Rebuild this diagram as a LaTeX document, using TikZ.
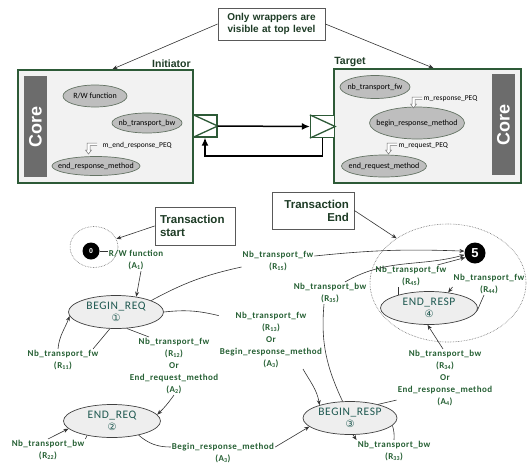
\documentclass[tikz,border=0pt]{standalone}
\usepackage{fontspec}
\setmainfont{Carlito}
\newfontfamily\lblfam{Carlito}[LetterSpace=5]
\newfontfamily\statefam{Carlito}[LetterSpace=5]
\newfontfamily\arialfam{Liberation Sans}
\newfontfamily\symfam{DejaVu Sans}
\usetikzlibrary{arrows.meta,shapes.geometric,calc}
\definecolor{txtgreen}{RGB}{38,96,52}
\definecolor{stategreen}{RGB}{30,88,80}
\definecolor{boxgreen}{RGB}{45,90,55}
\definecolor{panelgray}{RGB}{242,242,242}
\definecolor{coregray}{RGB}{108,108,108}
\definecolor{methgray}{RGB}{190,190,190}
\definecolor{methedge}{RGB}{100,115,100}
\definecolor{statefill}{RGB}{238,238,238}
\definecolor{notetxt}{RGB}{30,60,38}
\newcommand\circnum[1]{{\symfam\fontsize{10}{10}\selectfont #1}}

\begin{document}
\begin{tikzpicture}[x=1pt,y=-1pt,
  lbl/.style={text=txtgreen,font=\lblfam\bfseries\fontsize{9}{12}\selectfont,align=center,inner sep=1pt},
  state/.style={ellipse,draw=black!75,line width=0.7pt,fill=statefill,text=stategreen,
    font=\statefam\fontsize{11.5}{12.5}\selectfont,align=center,inner xsep=1pt,inner ysep=-2pt,minimum height=33pt},
  meth/.style={ellipse,draw=methedge,line width=0.7pt,fill=methgray,font=\fontsize{8}{8}\selectfont,inner xsep=-7pt,inner ysep=-2pt},
  panel/.style={draw=boxgreen,line width=1.8pt,fill=panelgray},
  corebar/.style={fill=coregray,text=white,font=\arialfam\bfseries\fontsize{18}{18}\selectfont,rotate=90,
    minimum width=101pt,minimum height=23pt,inner sep=0pt},
  port/.style={draw=boxgreen,line width=1.3pt,fill=white,minimum width=24pt,minimum height=22pt,inner sep=0pt},
  portline/.style={draw=boxgreen,line width=1.3pt},
  wraplbl/.style={text=notetxt,font=\arialfam\bfseries\fontsize{10.5}{12}\selectfont,inner sep=1pt},
  note/.style={draw=black!65,line width=0.8pt,fill=white,text=notetxt,inner xsep=5pt},
  peqlbl/.style={font=\fontsize{7.5}{8}\selectfont,inner sep=0.5pt,anchor=west},
  ring/.style={ellipse,draw=black!60,densely dotted,line width=0.6pt,inner sep=0pt},
  endpt/.style={circle,fill=black,text=white,inner sep=0pt},
  link/.style={draw=black!80,line width=0.6pt},
  trans/.style={link,-{Stealth[length=5pt,width=4pt]}},
  bus/.style={line width=1.5pt,-{Latex[length=8pt,width=7pt]}},
  peq/.pic={\draw[draw=black!55,fill=white,line width=0.5pt] (10,0) -- (0,0) -- (0,7) -- (-1.5,7) -- (1.5,11) -- (4.5,7) -- (3,7) -- (3,2.5) -- (10,2.5);}
]
\useasboundingbox (0,0) rectangle (527,464);

\node[note,text width=97pt,align=center,minimum height=32pt,font=\arialfam\bfseries\fontsize{10}{12}\selectfont] (wrapnote) at (271.5,24) {Only wrappers are\\visible at top level};

\node[panel,minimum width=175pt,minimum height=113pt] (initiator) at (105.5,126.5) {};
\node[panel,minimum width=187pt,minimum height=114pt] (target) at (427.5,126) {};
\node[wraplbl,anchor=south east] (initlbl) at ([xshift=-2pt]initiator.north east) {Initiator};
\node[wraplbl,anchor=south west] (targlbl) at (target.north west) {Target};
\node[corebar] (icore) at (35.5,126.5) {Core};
\node[corebar] (tcore) at (503.5,124.5) {Core};

\node[meth,minimum width=64pt,minimum height=22pt] (rwfunc) at (95,96) {R/W function};
\node[meth,minimum width=70pt,minimum height=20pt] (ibw) at (147,123) {nb\_transport\_bw};
\node[meth,minimum width=88pt,minimum height=19pt] (iendresp) at (96,166) {end\_response\_method};
\node[meth,minimum width=70pt,minimum height=23pt] (tfw) at (375,87) {nb\_transport\_fw};
\node[meth,minimum width=93pt,minimum height=32pt] (tbeginresp) at (417,123) {begin\_response\_method};
\node[meth,minimum width=85pt,minimum height=22pt] (tendreq) at (384,166) {end\_request\_method};

\pic at (87,143) {peq};
\node[peqlbl] (ipeq) at (102,145) {m\_end\_response\_PEQ};
\pic at (412,97) {peq};
\node[peqlbl] (trespq) at (423,99) {m\_response\_PEQ};
\pic at (387,143) {peq};
\node[peqlbl] (treqq) at (398,146) {m\_request\_PEQ};

\node[port] (iport) at (205,126) {};
\node[port] (tport) at (322.5,126.5) {};
\foreach \p in {iport,tport} \draw[portline] (\p.north west) -- (\p.east) -- (\p.south west);
\draw[bus] (iport.east) -- (tport.west);
\draw[bus] (tport.south) -- ++(0,18) -| (iport.south);

\draw[trans] (wrapnote.west) -- ([xshift=7pt]initiator.north);
\draw[trans] (wrapnote.east) -- ([xshift=6pt]target.north);

\node[ring,minimum width=48pt,minimum height=41pt] (startring) at (94,247) {};
\node[ring,minimum width=156pt,minimum height=118pt] (endring) at (448,283) {};
\node[endpt,minimum size=17pt,font=\arialfam\bfseries\fontsize{7}{7}\selectfont] (s0) at (91,251) {0};
\node[endpt,minimum size=21pt,font=\arialfam\bfseries\fontsize{13}{13}\selectfont] (s5) at (475,253) {5};
\node[note,text width=70pt,align=left,minimum height=38pt,font=\arialfam\bfseries\fontsize{11.5}{13}\selectfont] (startnote) at (195,226) {Transaction\\start};
\node[note,text width=72pt,align=right,minimum height=37pt,font=\arialfam\bfseries\fontsize{11.5}{13}\selectfont] (endnote) at (313,210.5) {Transaction\\End};

\node[state,minimum width=95pt] (breq) at (116,312) {BEGIN\_REQ\\\circnum{①}};
\node[state,minimum width=97pt] (ereq) at (112,421) {END\_REQ\\\circnum{②}};
\node[state,minimum width=94pt] (bresp) at (350,418) {BEGIN\_RESP\\\circnum{③}};
\node[state,minimum width=97pt] (eresp) at (429,308) {END\_RESP\\\circnum{④}};

\node[lbl] (rwlbl) at (136,260) {R/W function\\(A\textsubscript{1})};
\node[lbl] (r11) at (63,360) {Nb\_transport\_fw\\(R\textsubscript{11})};
\node[lbl] (r12) at (174,366) {Nb\_transport\_fw\\(R\textsubscript{12})\\Or\\End\_request\_method\\(A\textsubscript{2})};
\node[lbl] (r22) at (48,450) {Nb\_transport\_bw\\(R\textsubscript{22})};
\node[lbl] (a3b) at (223,453) {Begin\_response\_method\\(A\textsubscript{3})};
\node[lbl] (r13) at (271,340) {Nb\_transport\_fw\\(R\textsubscript{13})\\Or\\Begin\_response\_method\\(A\textsubscript{3})};
\node[lbl] (r15) at (278,261) {Nb\_transport\_fw\\(R\textsubscript{15})};
\node[lbl] (r35) at (330,293) {Nb\_transport\_bw\\(R\textsubscript{35})};
\node[lbl] (r45) at (411,276) {Nb\_transport\_fw\\(R\textsubscript{45})};
\node[lbl] (r44) at (489,284) {Nb\_transport\_fw\\(R\textsubscript{44})};
\node[lbl] (r34) at (445,378) {Nb\_transport\_bw\\(R\textsubscript{34})\\Or\\End\_response\_method\\(A\textsubscript{4})};
\node[lbl] (r33) at (394,451) {Nb\_transport\_bw\\(R\textsubscript{33})};

\draw[trans] (startnote.west) -- (startring.20);
\draw[trans] (endnote.east) -- (endring.139);
\draw[link] (s0.east) -- (s0.east -| rwlbl.west);
\draw[trans] ([xshift=5pt]rwlbl.south) -- (breq.37);
\draw[link] (breq.18) to[bend left=8] ([yshift=-6pt]r15.west);
\draw[trans] ([yshift=5pt]r15.east) to[bend left=4] (s5.170);
\draw[link] (breq.east) to[bend left=10] (r13.155);
\draw[trans] ([xshift=32pt]r13.south) to[out=-60,in=100] (bresp.157);
\draw[link] (breq.-57) -- ([xshift=-25pt]r12.north);
\draw[link] (breq.-110) -- ([xshift=30pt]r11.north);
\draw[trans] ([xshift=-5pt]r11.north) to[out=85,in=250] (breq.185);
\draw[trans] (r12.south) to[bend left=5] (ereq.8);
\draw[link] (ereq.210) -- (r22.north east);
\draw[trans] (r22.north) -- (ereq.190);
\draw[link] (ereq.-28) to[out=-40,in=180] ([yshift=6pt]a3b.west);
\draw[trans] ([yshift=6pt]a3b.east) -- (bresp.192);
\draw[link] ([xshift=-6pt]r35.south) to[out=-95,in=115] (bresp.114);
\draw[trans] ([xshift=15pt]r35.north) to[out=30,in=195] (s5.190);
\draw[link] (eresp.157) -- (eresp.157 |- r45.south);
\draw[trans] ([xshift=-10pt]r45.north east) -- (s5.205);
\draw[link] (eresp.-3) -- ([xshift=-5pt]r44.south);
\draw[trans] ([yshift=-3pt]r44.west) -- (eresp.39);
\draw[link] (bresp.26) -- ([yshift=7pt]r34.south west);
\draw[trans] ([xshift=-2pt]r34.north) -- (eresp.265);
\draw[link] (bresp.-10) to[bend left=10] (r33.north);
\draw[trans] (bresp.-80) -- (r33.north west);
\end{tikzpicture}
\end{document}
